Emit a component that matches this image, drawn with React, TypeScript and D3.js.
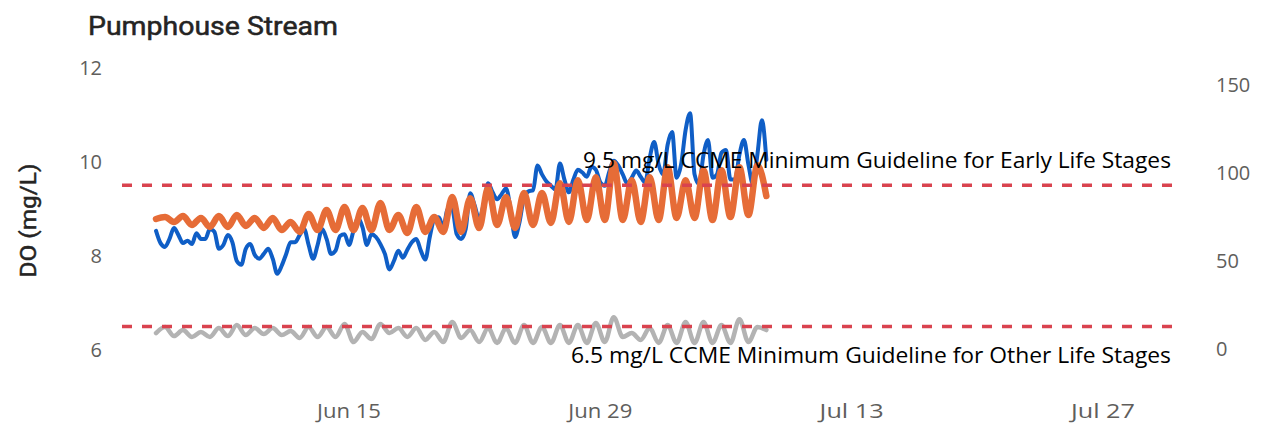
import React from 'react';
import * as d3 from 'd3';

const chartTitle = 'Pumphouse Stream';
const leftAxisTitle = 'DO (mg/L)';
const leftTicks = [6, 8, 10, 12];
const rightTicks = [0, 50, 100, 150];
const xTickDates = ['2021-06-15T00:00:00', '2021-06-29T00:00:00', '2021-07-13T00:00:00', '2021-07-27T00:00:00'];
const xTickLabels = ['Jun 15', 'Jun 29', 'Jul 13', 'Jul 27'];
const xDomainDates = ['2021-06-02T08:30:00', '2021-07-30T21:40:00'];

const seriesStart = '2021-06-04T06:00:00';
const doStepHours = 6;
const otherStepHours = 12;

// Dissolved oxygen (mg/L), left axis, 6-hourly
const doMgL = [
  8.53, 8.27, 8.19, 8.36, 8.59, 8.44, 8.27, 8.32, 8.25, 8.48,
  8.36, 8.36, 8.57, 8.51, 8.15, 8.23, 8.44, 8.29, 7.89, 7.81,
  8.15, 8.25, 8.02, 7.94, 8.04, 8.15, 7.94, 7.62, 7.79, 8.04,
  8.29, 8.29, 8.44, 8.57, 8.23, 7.94, 8.23, 8.57, 8.36, 8.04,
  8.11, 8.42, 8.46, 8.23, 8.53, 8.8, 8.61, 8.23, 8.46, 8.4,
  8.25, 8.04, 7.71, 7.89, 8.11, 7.96, 8.13, 8.29, 8.36, 8.11,
  7.92, 8.4, 8.78, 8.82, 8.61, 8.99, 8.99, 8.46, 8.36, 8.57,
  9.33, 9.07, 8.78, 9.09, 9.54, 9.35, 9.2, 9.31, 9.43, 8.99,
  8.4, 8.72, 9.24, 9.37, 9.39, 9.92, 9.73, 9.58, 9.49, 9.41,
  9.96, 9.62, 9.35, 9.62, 9.83, 9.77, 9.68, 9.89, 9.83, 9.56,
  9.49, 9.79, 10.02, 9.92, 9.73, 9.54, 9.66, 9.81, 9.68, 9.56,
  10.08, 10.42, 9.94, 9.73, 10.36, 10.63, 9.66, 9.94, 10.67, 11.03,
  9.73, 9.52, 10.15, 10.46, 9.66, 9.73, 10.19, 10.25, 9.62, 9.62,
  10.15, 10.46, 9.94, 9.52, 10.15, 10.88, 10.04,
];

// DO saturation (%), right axis, 12-hourly
const doSat = [
  74.2,
  75.3, 72.5, 75.9, 70.8, 74.8, 69.7, 75.9, 69.7, 76.5, 70.3,
  74.8, 69.1, 74.8, 68.0, 72.5, 66.9, 77.0, 68.0, 79.3, 68.0,
  81.0, 68.0, 80.4, 68.0, 83.2, 68.0, 76.5, 66.3, 81.0, 66.9,
  75.3, 66.9, 86.6, 66.9, 86.0, 69.1, 91.7, 70.8, 86.6, 69.1,
  88.9, 70.8, 88.9, 72.0, 94.5, 72.5, 96.2, 73.6, 97.9, 73.6,
  105.8, 73.6, 96.2, 72.5, 97.9, 73.6, 103.5, 74.8, 96.2, 74.8,
  101.8, 73.6, 101.8, 75.3, 103.5, 76.5, 104.7, 87.2,
];

// Water temperature, right axis, 12-hourly
const waterTemp = [
  9.6,
  13.0, 7.9, 11.3, 7.4, 10.2, 7.4, 12.4, 7.9, 14.1, 8.5,
  12.4, 9.1, 12.4, 8.5, 10.7, 6.8, 13.0, 7.4, 13.0, 7.4,
  14.7, 4.5, 10.2, 6.2, 14.7, 9.6, 12.4, 7.4, 12.4, 5.7,
  10.2, 4.5, 15.8, 6.8, 11.3, 4.5, 12.4, 4.0, 12.4, 4.0,
  14.1, 4.0, 13.0, 4.0, 14.1, 4.0, 14.1, 4.0, 15.3, 4.5,
  18.6, 7.4, 9.6, 5.7, 12.4, 4.0, 14.1, 4.0, 15.8, 4.0,
  15.8, 4.0, 14.1, 4.0, 17.4, 4.5, 13.0, 11.3,
];

const guidelineValues = [9.5, 6.5];
const guidelineLabels = [
  '9.5 mg/L CCME Minimum Guideline for Early Life Stages',
  '6.5 mg/L CCME Minimum Guideline for Other Life Stages',
];

const W = 1266;
const H = 430;
const PLOT_L = 122;
const PLOT_R = 1173;
const PLOT_T = 67.5;
const PLOT_B = 350;

const FONT = "'Segoe UI', 'Open Sans', 'Noto Sans', sans-serif";

type Pt = { t: Date; v: number };

function toPoints(values: number[], stepHours: number): Pt[] {
  const start = new Date(seriesStart);
  return values.map((v, i) => ({ t: d3.timeHour.offset(start, i * stepHours), v }));
}

export default function App() {
  const x = d3
    .scaleTime()
    .domain(xDomainDates.map((d) => new Date(d)))
    .range([PLOT_L, PLOT_R]);
  const yL = d3.scaleLinear().domain([6, 12]).range([PLOT_B, PLOT_T]);
  const yR = d3.scaleLinear().domain([0, 160]).range([PLOT_B, PLOT_T]);

  const lineL = d3
    .line<Pt>()
    .x((d) => x(d.t))
    .y((d) => yL(d.v))
    .curve(d3.curveMonotoneX);
  const lineR = d3
    .line<Pt>()
    .x((d) => x(d.t))
    .y((d) => yR(d.v))
    .curve(d3.curveMonotoneX);

  const doPts = toPoints(doMgL, doStepHours);
  const satPts = toPoints(doSat, otherStepHours);
  const tempPts = toPoints(waterTemp, otherStepHours);

  return (
    <svg
      width={W}
      height={H}
      style={{ position: 'absolute', left: 0, top: 0, background: '#fff' }}
      fontFamily={FONT}
    >
      <text
        x={88}
        y={35}
        fontSize={25}
        fontWeight={400}
        fill="#252423"
        stroke="#252423"
        strokeWidth={0.5}
        fontFamily="Roboto, 'Open Sans', sans-serif"
        textLength={250}
        lengthAdjust="spacingAndGlyphs"
      >
        {chartTitle}
      </text>
      <text
        transform={`translate(36, ${yL(8.75)}) rotate(-90)`}
        textAnchor="middle"
        fontSize={22}
        fontWeight={400}
        fill="#252423"
        stroke="#252423"
        strokeWidth={0.5}
        fontFamily="Roboto, 'Open Sans', sans-serif"
        textLength={114}
        lengthAdjust="spacingAndGlyphs"
      >
        {leftAxisTitle}
      </text>

      {leftTicks.map((t) => (
        <text key={'l' + t} x={102} y={yL(t) + 2} textAnchor="end" dominantBaseline="middle" fontSize={20} fill="#605E5C">
          {t}
        </text>
      ))}
      {rightTicks.map((t) => (
        <text key={'r' + t} x={1216} y={yR(t) + 1} textAnchor="start" dominantBaseline="middle" fontSize={20} fill="#605E5C">
          {t}
        </text>
      ))}
      {xTickDates.map((d, i) => (
        <text
          key={d}
          x={x(new Date(d))}
          y={413}
          textAnchor="middle"
          dominantBaseline="middle"
          fontSize={20}
          fill="#605E5C"
          textLength={64}
          lengthAdjust="spacingAndGlyphs"
        >
          {xTickLabels[i]}
        </text>
      ))}

      <path d={lineR(tempPts) || ''} fill="none" stroke="#B3B3B3" strokeWidth={4.5} strokeLinejoin="round" strokeLinecap="round" />
      <path d={lineL(doPts) || ''} fill="none" stroke="#0F5EC6" strokeWidth={4} strokeLinejoin="round" strokeLinecap="round" />
      <path d={lineR(satPts) || ''} fill="none" stroke="#E66C37" strokeWidth={6.5} strokeLinejoin="round" strokeLinecap="round" />

      {guidelineValues.map((g) => (
        <line
          key={'g' + g}
          x1={PLOT_L}
          x2={PLOT_R}
          y1={yL(g)}
          y2={yL(g)}
          stroke="#D9434F"
          strokeWidth={3.5}
          strokeDasharray="10,10"
        />
      ))}
      <text
        x={1171}
        y={yL(guidelineValues[0]) - 17}
        textAnchor="end"
        fontSize={21}
        fill="#000"
        textLength={588}
        lengthAdjust="spacingAndGlyphs"
      >
        {guidelineLabels[0]}
      </text>
      <text
        x={1171}
        y={yL(guidelineValues[1]) + 37}
        textAnchor="end"
        fontSize={21}
        fill="#000"
        textLength={600}
        lengthAdjust="spacingAndGlyphs"
      >
        {guidelineLabels[1]}
      </text>
    </svg>
  );
}
